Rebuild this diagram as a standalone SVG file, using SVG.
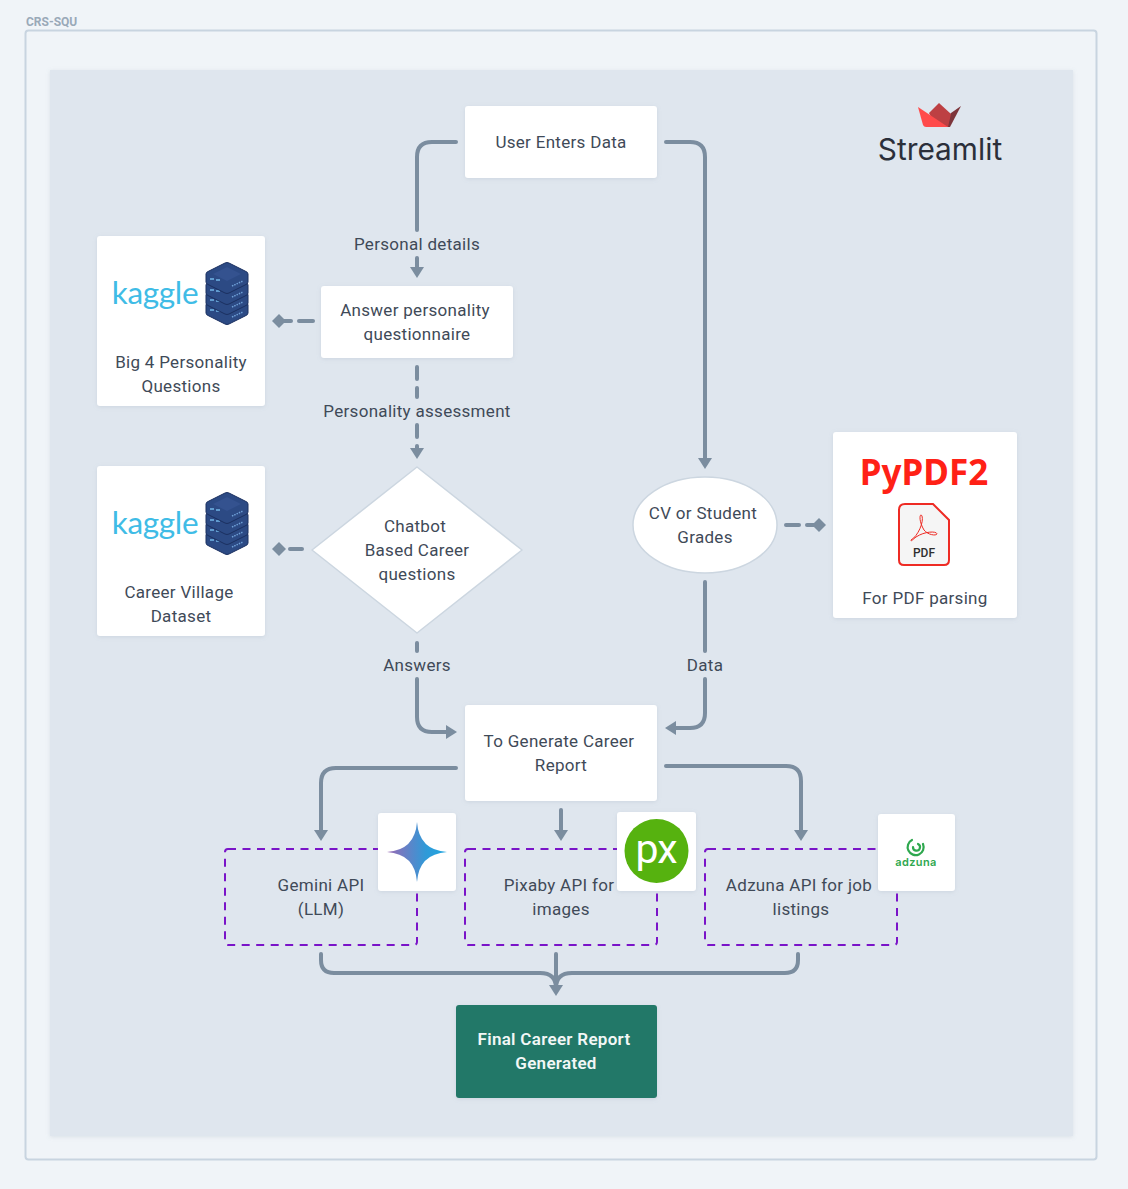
<svg xmlns="http://www.w3.org/2000/svg" width="1128" height="1189" viewBox="0 0 1128 1189">
<style>
text{font-family:"Roboto","Liberation Sans",sans-serif;font-size:17px;fill:#3f4a58;text-anchor:middle;letter-spacing:.3px}
.card{fill:#fff;rx:3px;filter:url(#sh)}
.c{fill:none;stroke:#7b8d9f;stroke-width:4;stroke-linecap:round;stroke-linejoin:round}
.dash{fill:none;stroke:#7a14c8;stroke-width:2;stroke-dasharray:8 6.5}
.k{font-family:"Lato","Liberation Sans",sans-serif;font-size:31.500px;fill:#3fbce6;letter-spacing:-.3px}
</style>
<defs>
<filter id="sh" x="-10%" y="-10%" width="120%" height="120%"><feDropShadow dx="0" dy="1" stdDeviation="2" flood-color="#8a99aa" flood-opacity=".22"/></filter>
<marker id="a" markerUnits="userSpaceOnUse" markerWidth="12" markerHeight="14" refX="1" refY="7" orient="auto"><path d="M0 0L11 7L0 14Z" fill="#7b8d9f"/></marker>
<marker id="v" markerUnits="userSpaceOnUse" markerWidth="14" markerHeight="14" refX="7" refY="7" orient="auto"><path d="M0 7L7 0L14 7L7 14Z" fill="#7b8d9f"/></marker>
<linearGradient id="g" x1="0" x2="1" y1="0" y2="0"><stop offset="0" stop-color="#9a68b4"/><stop offset=".65" stop-color="#2f9ad8"/><stop offset="1" stop-color="#20a6e0"/></linearGradient>
<g id="slab">
<path d="M0 12Q0 10 3 9L19 1Q21 0 23 1L39 9Q42 10 42 12V20Q42 22 39 23L23 31Q21 32 19 31L3 23Q0 22 0 20Z" fill="#2c4a84" stroke="#1b3060" stroke-width="1"/>
<path d="M4 17h4M10 18h4" stroke="#72b6e8" stroke-width="1.500"/>
<path d="M26 24l11-5" stroke="#6f9fd6" stroke-width="1.500" stroke-dasharray="1.500 1"/>
</g>
<g id="srv">
<use href="#slab" y="31"/><use href="#slab" y="21"/><use href="#slab" y="11"/><use href="#slab" y="0"/>
<path d="M21 5L35 12L21 19L7 12Z" fill="#34528f"/>
</g>
</defs>
<rect width="1128" height="1189" fill="#f0f4f8"/>
<text x="26" y="26" style="text-anchor:start;font-size:12px;font-weight:700;fill:#9aa9b8;letter-spacing:0">CRS-SQU</text>
<rect x="25.500" y="30.500" width="1071" height="1129" rx="3" fill="#f0f4f8" stroke="#c8d4e0" stroke-width="2"/>
<rect x="50" y="70" width="1023" height="1066" fill="#dfe6ee" filter="url(#sh)"/>

<g id="streamlit">
<path d="M951 113L961 106L950 127H940Z" fill="#7d353b"/>
<path d="M929 113L939 103L951 114L948 127H936Z" fill="#bd4043"/>
<path d="M918 107L948 127H926Q924 127 923 125Z" fill="#ff4b4b"/>
<text x="940" y="160" style="font-family:Inter,'Liberation Sans',sans-serif;font-size:29.800px;fill:#2b2f3a;letter-spacing:0">Streamlit</text>
</g>

<g id="connectors">
<path class="c" d="M456 142H432Q417 142 417 157V230"/>
<path class="c" marker-end="url(#a)" d="M417 258V268"/>
<path class="c" marker-end="url(#a)" d="M666 142H690Q705 142 705 157V459"/>
<path class="c" d="M313 321H299"/>
<path class="c" marker-end="url(#v)" d="M291 321H279"/>
<path class="c" d="M417 367V379M417 388V397M417 425V437"/>
<path class="c" marker-end="url(#a)" d="M417 446V449"/>
<path class="c" d="M302 549H290"/>
<path class="c" style="stroke-width:1" marker-end="url(#v)" d="M280 549H279"/>
<path class="c" d="M786 525H799"/>
<path class="c" marker-end="url(#v)" d="M807 525H819"/>
<path class="c" d="M417 643V651"/>
<path class="c" marker-end="url(#a)" d="M417 679V717Q417 732 432 732H447"/>
<path class="c" d="M705 582V651"/>
<path class="c" marker-end="url(#a)" d="M705 679V713Q705 728 690 728H675"/>
<path class="c" marker-end="url(#a)" d="M456 768H336Q321 768 321 783V831"/>
<path class="c" marker-end="url(#a)" d="M561 810V831"/>
<path class="c" marker-end="url(#a)" d="M666 766H786Q801 766 801 781V831"/>
<path class="c" d="M321 954V960Q321 973 334 973H540Q556 973 556 988"/>
<path class="c" d="M798 954V960Q798 973 785 973H572Q556 973 556 988"/>
<path class="c" marker-end="url(#a)" d="M556 954V986"/>
</g>

<g id="labels">
<text x="417" y="250">Personal details</text>
<text x="417" y="417">Personality assessment</text>
<text x="417" y="671">Answers</text>
<text x="705" y="671">Data</text>
</g>

<g id="user"><rect class="card" x="465" y="106" width="192" height="72"/><text x="561" y="148">User Enters Data</text></g>
<g id="answer"><rect class="card" x="321" y="286" width="192" height="72"/><text x="415" y="316">Answer personality</text><text x="417" y="340">questionnaire</text></g>
<g id="big4"><rect class="card" x="97" y="236" width="168" height="170"/>
<text class="k" x="155" y="304">kaggle</text><use href="#srv" x="206" y="262"/>
<text x="181" y="368">Big 4 Personality</text><text x="181" y="392">Questions</text></g>
<g id="village"><rect class="card" x="97" y="466" width="168" height="170"/>
<text class="k" x="155" y="534">kaggle</text><use href="#srv" x="206" y="492"/>
<text x="179" y="598">Career Village</text><text x="181" y="622">Dataset</text></g>
<g id="chatbot"><path d="M417 467L522 550L417 633L312 550Z" fill="#fff" stroke="#ccd6e0" stroke-width="1.500" stroke-linejoin="round"/>
<text x="415" y="532">Chatbot</text><text x="417" y="556">Based Career</text><text x="417" y="580">questions</text></g>
<g id="cv"><ellipse cx="705" cy="525" rx="72" ry="48" fill="#fff" stroke="#ccd6e0" stroke-width="1.500"/>
<text x="703" y="519">CV or Student</text><text x="705" y="543">Grades</text></g>
<g id="pypdf"><rect class="card" x="833" y="432" width="184" height="186"/>
<text x="924" y="485" style="font-family:'Noto Sans','Liberation Sans',sans-serif;font-size:35px;font-weight:700;fill:#ff2116;letter-spacing:0">PyPDF2</text>
<path d="M905 504H933L949 520V560Q949 565 944 565H904Q899 565 899 560V510Q899 504 905 504Z" fill="#f5f5f5" stroke="#ee2b24" stroke-width="2"/>
<path d="M911 540C918 536 924 522 922 516C920 512 918 520 924 530C928 535 936 536 937 534C937 531 925 531 916 537C912 540 911 542 911 540Z" fill="none" stroke="#ee2b24" stroke-width="1"/>
<text x="924" y="557" style="font-size:12px;font-weight:500;fill:#2f2f2f;letter-spacing:0">PDF</text>
<text x="925" y="604">For PDF parsing</text></g>
<g id="report"><rect class="card" x="465" y="705" width="192" height="96"/><text x="559" y="747">To Generate Career</text><text x="561" y="771">Report</text></g>

<g id="gemini"><rect class="dash" x="225" y="849" width="192" height="96" rx="3"/>
<text x="321" y="891">Gemini API</text><text x="321" y="915">(LLM)</text>
<rect class="card" x="378" y="813" width="78" height="78"/>
<path d="M417 822Q419 850 447 852Q419 854 417 882Q415 854 387 852Q415 850 417 822Z" fill="url(#g)"/></g>
<g id="pixaby"><rect class="dash" x="465" y="849" width="192" height="96" rx="3"/>
<text x="559" y="891">Pixaby API for</text><text x="561" y="915">images</text>
<rect class="card" x="617" y="812" width="79" height="79"/>
<circle cx="656.500" cy="851" r="32" fill="#56b20f"/>
<text x="656" y="863" style="font-size:41px;fill:#fff;letter-spacing:-1px;font-weight:400">px</text></g>
<g id="adzuna"><rect class="dash" x="705" y="849" width="192" height="96" rx="3"/>
<text x="799" y="891">Adzuna API for job</text><text x="801" y="915">listings</text>
<rect class="card" x="878" y="814" width="77" height="77"/>
<path d="M912 840A8 8 0 1 0 923 844M913 847A3.500 3.500 0 1 0 918 844" fill="none" stroke="#2fa84f" stroke-width="2.200" stroke-linecap="round"/>
<text x="916" y="866" style="font-family:Inter,'Liberation Sans',sans-serif;font-size:11px;font-weight:600;fill:#2fa84f;letter-spacing:.4px">adzuna</text></g>
<g id="final"><rect class="card" x="456" y="1005" width="201" height="93" style="fill:#207868"/>
<text x="554" y="1045" style="fill:#f2f7f6;font-weight:600">Final Career Report</text><text x="556" y="1069" style="fill:#f2f7f6;font-weight:600">Generated</text></g>
</svg>
